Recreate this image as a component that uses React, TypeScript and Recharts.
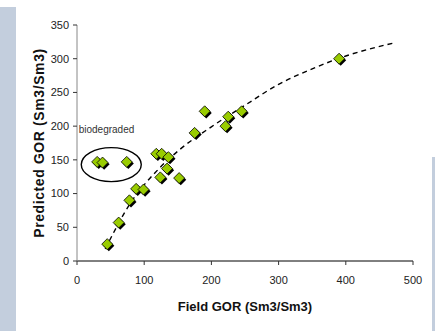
import { ComposedChart, Scatter, Line, XAxis, YAxis } from "recharts";

// field GOR vs predicted GOR (Sm3/Sm3)
const fieldGor = [30, 38, 74, 45, 62, 78, 88, 99, 118, 126, 136, 134, 124, 152, 175, 190, 221, 225, 245, 390];
const predictedGor = [147, 146, 147, 25, 57, 90, 107, 106, 159, 159, 154, 137, 124, 123, 190, 222, 200, 214, 222, 300];

// dashed trend line
const trendX = [42, 81, 120, 155, 200, 250, 300, 350, 400, 470];
const trendY = [18, 88, 135, 167, 199, 231, 262, 285, 304, 323];

const xTicks = [0, 100, 200, 300, 400, 500];
const yTicks = [0, 50, 100, 150, 200, 250, 300, 350];

const points = fieldGor.map((x, i) => ({ x, y: predictedGor[i] }));
const trend = trendX.map((x, i) => ({ x, y: trendY[i] }));
const ellipse = [{ x: 51, y: 143 }];
const note = [{ x: 2.5, y: 195, text: "biodegraded" }];

const panel = "#c3cedd";
const tickStyle = { fontSize: 11, fontFamily: "Liberation Sans, Arial, sans-serif", fill: "#222" };

function Diamond(props: any) {
  const { cx, cy } = props;
  const r = 5.5;
  const pts = (dx: number, dy: number) =>
    `${cx + dx},${cy - r + dy} ${cx + r + dx},${cy + dy} ${cx + dx},${cy + r + dy} ${cx - r + dx},${cy + dy}`;
  return (
    <g>
      <polygon points={pts(1.6, 1.6)} fill="#000" />
      <polygon points={pts(0, 0)} fill="#99cc00" stroke="#000" strokeWidth={0.8} />
    </g>
  );
}

function Ellipse(props: any) {
  return <ellipse cx={props.cx} cy={props.cy} rx={30} ry={17} fill="none" stroke="#000" strokeWidth={1.4} />;
}

function Note(props: any) {
  return (
    <text x={props.cx} y={props.cy} dy="0.35em" fontSize={10} fontFamily="Liberation Sans, Arial, sans-serif" fill="#333">
      {props.payload.text}
    </text>
  );
}

function YLabel(props: any) {
  const { viewBox } = props;
  const cx = viewBox.x + 2;
  const cy = viewBox.y + viewBox.height / 2;
  return (
    <text
      x={cx}
      y={cy}
      transform={`rotate(-90, ${cx}, ${cy})`}
      textAnchor="middle"
      dy="0.35em"
      fontSize={14}
      fontWeight="bold"
      letterSpacing={0.6}
      fontFamily="Liberation Sans, Arial, sans-serif"
      fill="#111"
    >
      Predicted GOR (Sm3/Sm3)
    </text>
  );
}

export default function App() {
  return (
    <div style={{ position: "absolute", left: 0, top: 0, width: 435, height: 331, background: "#fff", overflow: "hidden" }}>
      <div style={{ position: "absolute", left: 0, top: 7, width: 16, height: 324, background: panel }} />
      <div style={{ position: "absolute", left: 432, top: 157, width: 3, height: 174, background: panel }} />
      <ComposedChart width={435} height={331} margin={{ top: 25, right: 22, bottom: 25, left: 37 }}>
        <XAxis
          type="number"
          dataKey="x"
          domain={[0, 500]}
          ticks={xTicks}
          interval={0}
          tick={tickStyle}
          tickSize={4}
          tickMargin={11}
          axisLine={{ stroke: "#000" }}
          tickLine={{ stroke: "#333" }}
          height={45}
          label={{
            value: "Field GOR (Sm3/Sm3)",
            position: "insideBottom",
            offset: -5,
            fontSize: 13,
            fontWeight: "bold",
            fill: "#111",
            fontFamily: "Liberation Sans, Arial, sans-serif",
          }}
        />
        <YAxis
          type="number"
          dataKey="y"
          domain={[0, 350]}
          ticks={yTicks}
          interval={0}
          tick={tickStyle}
          tickSize={4}
          tickMargin={4}
          axisLine={{ stroke: "#888" }}
          tickLine={{ stroke: "#333" }}
          width={40}
          label={<YLabel />}
        />
        <Scatter data={points} dataKey="y" shape={<Diamond />} isAnimationActive={false} />
        <Scatter data={ellipse} dataKey="y" shape={<Ellipse />} isAnimationActive={false} />
        <Scatter data={note} dataKey="y" shape={<Note />} isAnimationActive={false} />
        <Line
          data={trend}
          dataKey="y"
          type="monotone"
          stroke="#000"
          strokeWidth={1.4}
          strokeDasharray="5 4"
          dot={false}
          activeDot={false}
          isAnimationActive={false}
        />
      </ComposedChart>
    </div>
  );
}
